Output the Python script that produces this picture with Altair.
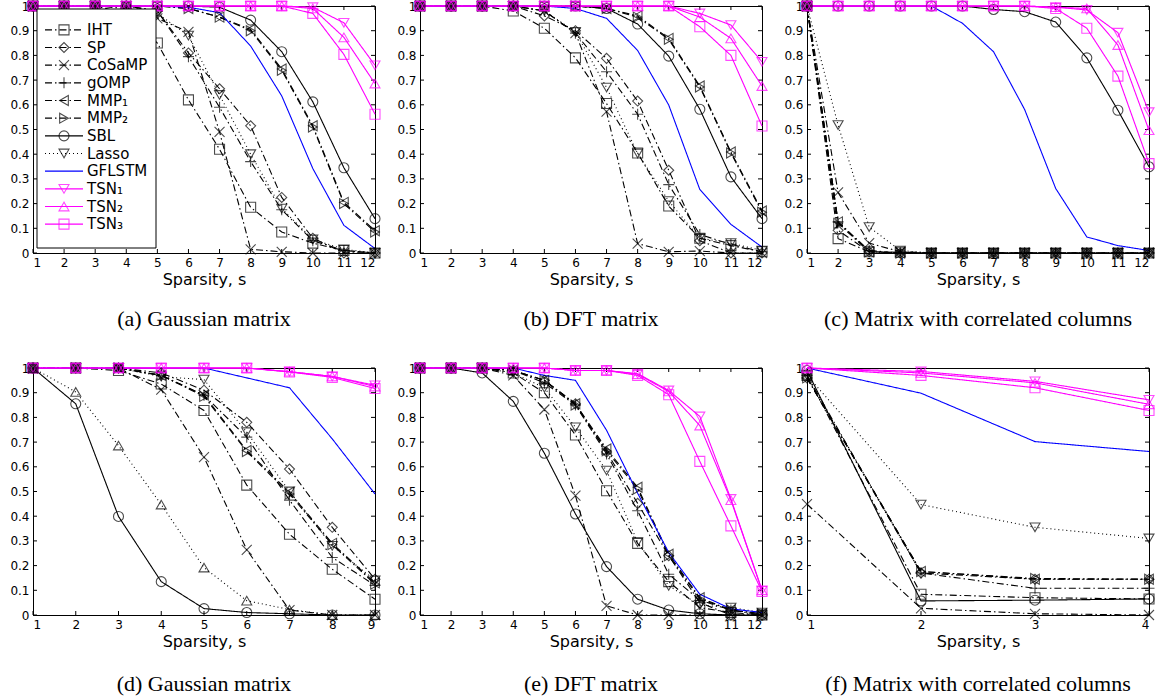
import altair as alt
import pandas as pd

# ---------------- series definitions ----------------
SERIES = ["IHT", "SP", "CoSaMP", "gOMP", "MMP1", "MMP2", "SBL", "Lasso",
          "GFLSTM", "TSN1", "TSN2", "TSN3"]
LABELS = ["IHT", "SP", "CoSaMP", "gOMP", "MMP\u2081", "MMP\u2082", "SBL", "Lasso",
          "GFLSTM", "TSN\u2081", "TSN\u2082", "TSN\u2083"]
EXTRA = "Other"   # unlabelled dotted triangle curve in panel (d)
DOMAIN = SERIES + [EXTRA]

Y_TICKS = [0, 0.1, 0.2, 0.3, 0.4, 0.5, 0.6, 0.7, 0.8, 0.9, 1.0]

# ---------------- panel (a) Gaussian matrix ----------------
A_S = [1, 2, 3, 4, 5, 6, 7, 8, 9, 10, 11, 12]
A = {
    "IHT":    [1, 1, 1, 0.97, 0.85, 0.62, 0.42, 0.185, 0.085, 0.04, 0.01, 0.0],
    "SP":     [1, 1, 1, 1, 0.98, 0.81, 0.665, 0.515, 0.225, 0.06, 0.0, 0.0],
    "CoSaMP": [1, 1, 1, 0.99, 0.95, 0.895, 0.49, 0.015, 0.005, 0.0, 0.0, 0.0],
    "gOMP":   [1, 1, 1, 1, 0.98, 0.795, 0.59, 0.37, 0.175, 0.05, 0.01, 0.0],
    "MMP1":   [1, 1, 1, 1, 1, 0.99, 0.955, 0.905, 0.745, 0.515, 0.205, 0.09],
    "MMP2":   [1, 1, 1, 1, 1, 0.99, 0.955, 0.9, 0.74, 0.51, 0.2, 0.085],
    "SBL":    [1, 1, 1, 1, 1, 1, 0.995, 0.943, 0.815, 0.612, 0.345, 0.139],
    "Lasso":  [1, 1, 1, 1, 0.97, 0.88, 0.64, 0.40, 0.18, 0.055, 0.015, 0.0],
    "GFLSTM": [1, 1, 1, 1, 1, 0.995, 0.973, 0.838, 0.636, 0.342, 0.112, 0.018],
    "TSN1":   [1, 1, 1, 1, 1, 1, 1, 1, 1, 0.995, 0.932, 0.76],
    "TSN2":   [1, 1, 1, 1, 1, 1, 1, 1, 1, 0.99, 0.873, 0.686],
    "TSN3":   [1, 1, 1, 1, 1, 1, 1, 1, 1, 0.97, 0.804, 0.562],
}

# ---------------- panel (b) DFT matrix ----------------
B_S = [1, 2, 3, 4, 5, 6, 7, 8, 9, 10, 11, 12]
B = {
    "IHT":    [1, 1, 1, 0.98, 0.91, 0.79, 0.605, 0.405, 0.19, 0.06, 0.03, 0.005],
    "SP":     [1, 1, 1, 1, 0.96, 0.9, 0.788, 0.615, 0.335, 0.05, 0.0, 0.0],
    "CoSaMP": [1, 1, 1, 1, 0.98, 0.89, 0.572, 0.038, 0.005, 0.008, 0.0, 0.0],
    "gOMP":   [1, 1, 1, 1, 0.98, 0.89, 0.734, 0.562, 0.277, 0.075, 0.035, 0.005],
    "MMP1":   [1, 1, 1, 1, 1, 1, 0.99, 0.96, 0.869, 0.676, 0.409, 0.17],
    "MMP2":   [1, 1, 1, 1, 1, 1, 0.99, 0.955, 0.865, 0.672, 0.405, 0.165],
    "SBL":    [1, 1, 1, 1, 1, 1, 0.99, 0.927, 0.797, 0.582, 0.308, 0.139],
    "Lasso":  [1, 1, 1, 1, 0.98, 0.895, 0.67, 0.403, 0.21, 0.06, 0.04, 0.01],
    "GFLSTM": [1, 1, 1, 1, 1, 0.99, 0.95, 0.82, 0.599, 0.257, 0.116, 0.024],
    "TSN1":   [1, 1, 1, 1, 1, 1, 1, 1, 1, 0.97, 0.923, 0.774],
    "TSN2":   [1, 1, 1, 1, 1, 1, 1, 1, 1, 0.955, 0.869, 0.676],
    "TSN3":   [1, 1, 1, 1, 1, 1, 1, 1, 1, 0.916, 0.80, 0.514],
}

# ---------------- panel (c) correlated columns ----------------
C_S = [1, 2, 3, 4, 5, 6, 7, 8, 9, 10, 11, 12]
C = {
    "IHT":    [1, 0.058, 0.005, 0.003, 0, 0, 0, 0, 0, 0, 0, 0],
    "SP":     [1, 0.092, 0.005, 0, 0, 0, 0, 0, 0, 0, 0, 0],
    "CoSaMP": [1, 0.245, 0.04, 0.005, 0, 0, 0, 0, 0, 0, 0, 0],
    "gOMP":   [1, 0.126, 0.01, 0, 0, 0, 0, 0, 0, 0, 0, 0],
    "MMP1":   [1, 0.126, 0.005, 0, 0, 0, 0, 0, 0, 0, 0, 0],
    "MMP2":   [1, 0.12, 0.005, 0, 0, 0, 0, 0, 0, 0, 0, 0],
    "SBL":    [1, 1, 1, 1, 1, 1, 0.986, 0.977, 0.935, 0.79, 0.578, 0.349],
    "Lasso":  [1, 0.518, 0.105, 0.01, 0, 0, 0, 0, 0, 0, 0, 0],
    "GFLSTM": [1, 1, 1, 1, 1, 0.93, 0.815, 0.581, 0.261, 0.065, 0.03, 0.01],
    "TSN1":   [1, 1, 1, 1, 1, 1, 1, 1, 0.995, 0.984, 0.892, 0.57],
    "TSN2":   [1, 1, 1, 1, 1, 1, 1, 1, 0.995, 0.99, 0.842, 0.497],
    "TSN3":   [1, 1, 1, 1, 1, 1, 1, 1, 0.99, 0.91, 0.716, 0.362],
}

# ---------------- panel (d) Gaussian matrix ----------------
D_S = [1, 2, 3, 4, 5, 6, 7, 8, 9]
D = {
    "IHT":    [1, 1, 0.99, 0.935, 0.828, 0.526, 0.327, 0.185, 0.064],
    "SP":     [1, 1, 1, 0.98, 0.91, 0.78, 0.591, 0.355, 0.145],
    "CoSaMP": [1, 1, 1, 0.912, 0.639, 0.264, 0.02, 0.0, 0.0],
    "gOMP":   [1, 1, 1, 0.97, 0.89, 0.72, 0.465, 0.233, 0.12],
    "MMP1":   [1, 1, 1, 0.97, 0.89, 0.666, 0.497, 0.29, 0.13],
    "MMP2":   [1, 1, 1, 0.97, 0.885, 0.662, 0.49, 0.285, 0.125],
    "SBL":    [1, 0.855, 0.399, 0.135, 0.026, 0.01, 0.005, 0.0, 0.0],
    "Lasso":  [1, 1, 1, 0.965, 0.953, 0.74, 0.5, 0.28, 0.14],
    "GFLSTM": [1, 1, 1, 1, 1, 0.96, 0.92, 0.713, 0.49],
    "TSN1":   [1, 1, 1, 1, 1, 1, 0.985, 0.966, 0.93],
    "TSN2":   [1, 1, 1, 1, 1, 1, 0.985, 0.966, 0.925],
    "TSN3":   [1, 1, 1, 1, 1, 1, 0.984, 0.962, 0.917],
    "Other":  [1, 0.903, 0.686, 0.447, 0.192, 0.058, 0.022, 0.0, 0.0],
}

# ---------------- panel (e) DFT matrix ----------------
E_S = [1, 2, 3, 4, 5, 6, 7, 8, 9, 10, 11, 12]
E = {
    "IHT":    [1, 1, 1, 0.98, 0.90, 0.729, 0.503, 0.29, 0.135, 0.03, 0.01, 0.0],
    "SP":     [1, 1, 1, 0.99, 0.95, 0.855, 0.66, 0.452, 0.24, 0.05, 0.0, 0.0],
    "CoSaMP": [1, 1, 1, 0.97, 0.832, 0.483, 0.037, 0.0, 0.0, 0.0, 0.0, 0.0],
    "gOMP":   [1, 1, 1, 0.99, 0.94, 0.85, 0.652, 0.422, 0.165, 0.06, 0.02, 0.0],
    "MMP1":   [1, 1, 1, 0.99, 0.95, 0.855, 0.672, 0.517, 0.246, 0.07, 0.02, 0.005],
    "MMP2":   [1, 1, 1, 0.99, 0.95, 0.85, 0.665, 0.51, 0.24, 0.065, 0.02, 0.005],
    "SBL":    [1, 1, 0.98, 0.865, 0.655, 0.409, 0.196, 0.064, 0.02, 0.005, 0.0, 0.0],
    "Lasso":  [1, 1, 1, 0.98, 0.92, 0.76, 0.585, 0.295, 0.118, 0.04, 0.03, 0.01],
    "GFLSTM": [1, 1, 1, 1, 0.97, 0.95, 0.748, 0.493, 0.253, 0.084, 0.025, 0.01],
    "TSN1":   [1, 1, 1, 1, 1, 0.99, 0.99, 0.977, 0.909, 0.804, 0.47, 0.10],
    "TSN2":   [1, 1, 1, 1, 1, 0.99, 0.99, 0.975, 0.905, 0.767, 0.465, 0.10],
    "TSN3":   [1, 1, 1, 1, 1, 0.99, 0.99, 0.97, 0.892, 0.622, 0.361, 0.095],
}

# ---------------- panel (f) correlated columns ----------------
F_S = [1, 2, 3, 4]
F = {
    "IHT":    [0.97, 0.084, 0.07, 0.065],
    "SP":     [0.96, 0.17, 0.145, 0.145],
    "CoSaMP": [0.449, 0.027, 0.005, 0.0],
    "gOMP":   [0.97, 0.17, 0.108, 0.108],
    "MMP1":   [0.96, 0.176, 0.145, 0.145],
    "MMP2":   [0.96, 0.176, 0.148, 0.145],
    "SBL":    [0.99, 0.057, 0.06, 0.065],
    "Lasso":  [0.97, 0.447, 0.355, 0.31],
    "GFLSTM": [1.0, 0.898, 0.702, 0.662],
    "TSN1":   [1, 0.986, 0.946, 0.871],
    "TSN2":   [1, 0.98, 0.94, 0.853],
    "TSN3":   [1, 0.97, 0.92, 0.828],
}

# ---------------- styles ----------------
XPATH = "M-1,-1L1,1M-1,1L1,-1"
PLUS = "M0,-1.1L0,1.1M-1.1,0L1.1,0"
DASHDOT = [7, 3, 1.5, 3]
DOT = [1, 3]
SOLID = [1, 0]
COLORS = ["black"] * 8 + ["#0000ff"] + ["#ff00ff"] * 3 + ["black"]
DASHES = [DASHDOT] * 6 + [SOLID, DOT, SOLID, SOLID, SOLID, SOLID, DOT]
SHAPES = ["square", "diamond", XPATH, PLUS, "triangle-left", "triangle-right",
          "circle", "triangle-down", "circle", "triangle-down", "triangle-up",
          "square", "triangle-up"]

color_scale = alt.Scale(domain=DOMAIN, range=COLORS)
dash_scale = alt.Scale(domain=DOMAIN, range=DASHES)
shape_scale = alt.Scale(domain=DOMAIN, range=SHAPES)

W, H = 342, 247
MSIZE = 100
LW = 1.1


def long_df(s_vals, table):
    rows = []
    for name in DOMAIN:
        if name in table:
            for s, v in zip(s_vals, table[name]):
                rows.append({"series": name, "s": s, "v": v})
    return pd.DataFrame(rows)


def legend_layer():
    leg_df = pd.DataFrame({"series": SERIES, "label": LABELS})
    ly = alt.Y("series:N", scale=alt.Scale(domain=SERIES, range=[15, 227], padding=0),
               axis=None)
    col = alt.Color("series:N", scale=color_scale, legend=None)
    box = alt.Chart(pd.DataFrame({"k": [0]})).mark_rect(
        fill="white", stroke="black", strokeWidth=1).encode(
        x=alt.value(4), x2=alt.value(123), y=alt.value(3), y2=alt.value(242))
    seg = alt.Chart(leg_df).mark_rule(strokeWidth=LW).encode(
        x=alt.value(12), x2=alt.value(50), y=ly, color=col,
        strokeDash=alt.StrokeDash("series:N", scale=dash_scale, legend=None))
    mk = alt.Chart(leg_df).transform_filter(alt.datum.series != "GFLSTM").mark_point(
        filled=False, size=MSIZE, strokeWidth=LW).encode(
        x=alt.value(31), y=ly, color=col,
        shape=alt.Shape("series:N", scale=shape_scale, legend=None))
    tx = alt.Chart(leg_df).mark_text(
        align="left", baseline="middle", font="DejaVu Sans", fontSize=15,
        color="black").encode(x=alt.value(54), y=ly, text="label:N")
    return alt.layer(box, seg, mk, tx)


def panel(s_vals, table, caption, offset, with_legend=False):
    df = long_df(s_vals, table)
    smax = s_vals[-1]
    xenc = alt.X("s:Q", scale=alt.Scale(domain=[1, smax], nice=False, zero=False),
                 axis=alt.Axis(values=s_vals, format="d", title="Sparsity, s"))
    yenc = alt.Y("v:Q", scale=alt.Scale(domain=[0, 1], nice=False),
                 axis=alt.Axis(values=Y_TICKS, format="~g", title=None))
    col = alt.Color("series:N", scale=color_scale, legend=None)
    base = alt.Chart(df)
    lines = base.mark_line(strokeWidth=LW).encode(
        x=xenc, y=yenc, color=col,
        strokeDash=alt.StrokeDash("series:N", scale=dash_scale, legend=None))
    pts = base.transform_filter(alt.datum.series != "GFLSTM").mark_point(
        filled=False, size=MSIZE, strokeWidth=LW).encode(
        x=xenc, y=yenc, color=col,
        shape=alt.Shape("series:N", scale=shape_scale, legend=None))
    xt = alt.Chart(pd.DataFrame({"s": s_vals}))
    yt = alt.Chart(pd.DataFrame({"v": Y_TICKS}))
    tb = xt.mark_rule(color="black").encode(x=xenc, y=alt.value(H), y2=alt.value(H - 4))
    tt = xt.mark_rule(color="black").encode(x=xenc, y=alt.value(0), y2=alt.value(4))
    tl = yt.mark_rule(color="black").encode(y=yenc, x=alt.value(0), x2=alt.value(4))
    tr = yt.mark_rule(color="black").encode(y=yenc, x=alt.value(W - 4), x2=alt.value(W))
    main = alt.layer(tb, tt, tl, tr, lines, pts)
    if with_legend:
        main = alt.layer(main, legend_layer()).resolve_scale(y="independent")
    return main.properties(
        width=W, height=H,
        title=alt.TitleParams(caption, orient="bottom", offset=offset))


pa = panel(A_S, A, "(a) Gaussian matrix", 22, with_legend=True)
pb = panel(B_S, B, "(b) DFT matrix", 22)
pc = panel(C_S, C, "(c) Matrix with correlated columns", 22)
pd_ = panel(D_S, D, "(d) Gaussian matrix", 25)
pe = panel(E_S, E, "(e) DFT matrix", 25)
pf = panel(F_S, F, "(f) Matrix with correlated columns", 25)

row1 = alt.hconcat(pa, pb, pc, spacing=12)
row2 = alt.hconcat(pd_, pe, pf, spacing=12)

chart = alt.vconcat(row1, row2, spacing=28).properties(
    padding={"left": 9, "top": -3, "right": 0, "bottom": 0},
    background="white",
).configure_view(
    stroke="black", strokeWidth=1
).configure_axis(
    domainColor="black", domainWidth=1, ticks=False, grid=False,
    labelFont="DejaVu Sans", labelFontSize=12, labelColor="black", labelPadding=4,
    titleFont="DejaVu Sans", titleFontSize=16, titleFontWeight="normal",
    titleColor="black", titlePadding=3,
).configure_title(
    font="Liberation Serif", fontSize=22, fontWeight="normal", color="black"
)

chart.save("out.html", embed_options={"renderer": "svg", "actions": False})
